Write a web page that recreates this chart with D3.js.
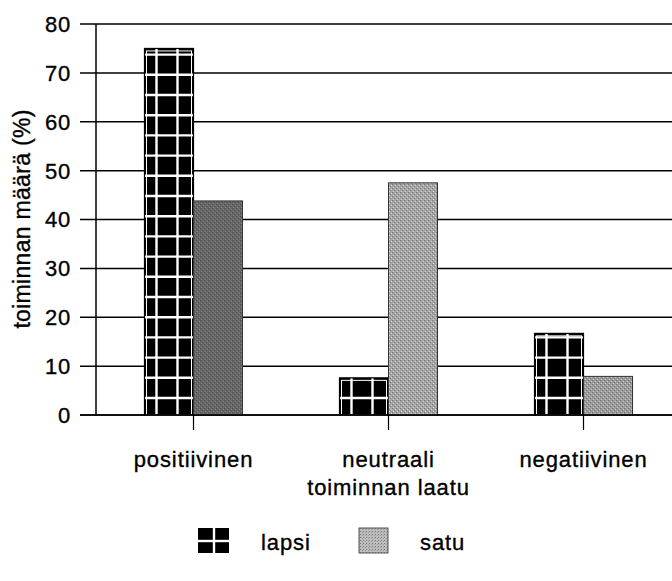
<!DOCTYPE html>
<html><head><meta charset="utf-8">
<script src="https://cdn.jsdelivr.net/npm/d3@7"></script>
<style>
html,body{margin:0;padding:0;background:#fff;}
svg{display:block;font-family:"Liberation Sans",Arial,sans-serif;}
text{fill:#000;stroke:#000;stroke-width:0.35px;}
</style></head>
<body>
<svg id="c" width="672" height="581"></svg>
<script>
const categories = ["positiivinen", "neutraali", "negatiivinen"];
const seriesNames = ["lapsi", "satu"];
const lapsi = [75, 7.6, 16.7];
const satu = [43.8, 47.5, 7.9];
const yTicks = [0, 10, 20, 30, 40, 50, 60, 70, 80];
const xTitle = "toiminnan laatu";
const yTitle = "toiminnan määrä (%)";

const satuShade = ["#666666", "#a4a4a4", "#9a9a9a"];

const svg = d3.select("#c");
const x0 = d3.scaleBand().domain(categories).range([96, 681]).paddingInner(0).paddingOuter(0);
const x1 = d3.scaleBand().domain(seriesNames).range([0, 98]);
const y = d3.scaleLinear().domain([0, 80]).range([415, 24]);
const bw = x1.bandwidth();
const off = (x0.bandwidth() - 98) / 2;

const defs = svg.append("defs");
satuShade.forEach((c, i) => {
  const p = defs.append("pattern").attr("id", "satu" + i).attr("patternUnits", "userSpaceOnUse")
    .attr("width", 4).attr("height", 4);
  p.append("rect").attr("width", 4).attr("height", 4).attr("fill", c);
  p.append("rect").attr("x", 0).attr("y", 0).attr("width", 1).attr("height", 1).attr("fill", d3.color(c).darker(0.9));
  p.append("rect").attr("x", 2).attr("y", 2).attr("width", 1).attr("height", 1).attr("fill", d3.color(c).darker(0.9));
  p.append("rect").attr("x", 1).attr("y", 3).attr("width", 1).attr("height", 1).attr("fill", d3.color(c).brighter(0.8));
  p.append("rect").attr("x", 3).attr("y", 1).attr("width", 1).attr("height", 1).attr("fill", d3.color(c).brighter(0.8));
});
const lp = defs.append("pattern").attr("id", "satuLeg").attr("patternUnits", "userSpaceOnUse").attr("width", 3).attr("height", 3);
lp.append("rect").attr("width", 3).attr("height", 3).attr("fill", "#bdbdbd");
lp.append("rect").attr("width", 1).attr("height", 1).attr("fill", "#777");
lp.append("rect").attr("x", 2).attr("y", 1).attr("width", 1).attr("height", 1).attr("fill", "#999");

svg.append("g").selectAll("line").data(yTicks).join("line")
  .attr("x1", 80).attr("x2", 672)
  .attr("y1", d => y(d)).attr("y2", d => y(d))
  .attr("stroke", "#000").attr("stroke-width", 1.5);

svg.append("line").attr("x1", 96).attr("x2", 96).attr("y1", y(80)).attr("y2", y(0))
  .attr("stroke", "#000").attr("stroke-width", 1.5);

svg.append("g").selectAll("text").data(yTicks).join("text")
  .attr("x", 71).attr("y", d => y(d)).attr("dy", "0.36em")
  .attr("text-anchor", "end").attr("font-size", 22).attr("letter-spacing", 0.8).text(d => d);

const gL = svg.append("g");
categories.forEach((c, i) => {
  const bx = x0(c) + off + x1("lapsi");
  const top = y(lapsi[i]), bot = y(0);
  const clipId = "clipL" + i;
  defs.append("clipPath").attr("id", clipId).append("rect")
    .attr("x", bx).attr("y", top).attr("width", bw).attr("height", bot - top);
  gL.append("rect").attr("x", bx).attr("y", top).attr("width", bw).attr("height", bot - top).attr("fill", "#000");
  const g = gL.append("g").attr("clip-path", `url(#${clipId})`);
  [12, 33].forEach(dx => g.append("line").attr("x1", bx + dx).attr("x2", bx + dx).attr("y1", top).attr("y2", bot)
    .attr("stroke", "#fff").attr("stroke-width", 2.4));
  const hy = d3.range(0, 80, 1).map(k => 398 - 20.2 * k).filter(v => v > top + 2);
  hy.forEach(v => g.append("line").attr("x1", bx).attr("x2", bx + bw).attr("y1", v).attr("y2", v)
    .attr("stroke", "#fff").attr("stroke-width", 2.4));
  gL.append("rect").attr("x", bx + 2).attr("y", top + 2.5).attr("width", bw - 4).attr("height", bot - top - 2.5)
    .attr("fill", "none").attr("stroke", "#fff").attr("stroke-width", 1);
  gL.append("rect").attr("x", bx).attr("y", top).attr("width", bw).attr("height", bot - top)
    .attr("fill", "none").attr("stroke", "#000").attr("stroke-width", 1.2);
});
svg.append("g").selectAll("rect").data(categories).join("rect")
  .attr("x", c => x0(c) + off + x1("satu"))
  .attr("y", (c, i) => y(satu[i]))
  .attr("width", bw)
  .attr("height", (c, i) => y(0) - y(satu[i]))
  .attr("fill", (c, i) => `url(#satu${i})`)
  .attr("stroke", "#333").attr("stroke-width", 1);

svg.append("line").attr("x1", 80).attr("x2", 672).attr("y1", y(0)).attr("y2", y(0))
  .attr("stroke", "#000").attr("stroke-width", 1.5);
svg.append("g").selectAll("line").data(categories).join("line")
  .attr("x1", c => x0(c) + x0.bandwidth() / 2).attr("x2", c => x0(c) + x0.bandwidth() / 2)
  .attr("y1", y(0)).attr("y2", y(0) + 15).attr("stroke", "#000").attr("stroke-width", 1.2);
svg.append("g").selectAll("text").data(categories).join("text")
  .attr("x", c => x0(c) + x0.bandwidth() / 2).attr("y", 467)
  .attr("text-anchor", "middle").attr("font-size", 22).attr("letter-spacing", 0.9).text(c => c);
svg.append("text").attr("x", x0(categories[1]) + x0.bandwidth() / 2).attr("y", 495)
  .attr("text-anchor", "middle").attr("font-size", 22).attr("letter-spacing", 0.9).text(xTitle);

svg.append("text").attr("transform", "translate(30,219) rotate(-90)")
  .attr("text-anchor", "middle").attr("font-size", 23).attr("letter-spacing", 0.3).text(yTitle);

const leg = svg.append("g");
leg.append("rect").attr("x", 198).attr("y", 528).attr("width", 31).attr("height", 25).attr("fill", "#000");
leg.append("line").attr("x1", 198).attr("x2", 229).attr("y1", 541).attr("y2", 541).attr("stroke", "#fff").attr("stroke-width", 2.4);
leg.append("line").attr("x1", 214).attr("x2", 214).attr("y1", 528).attr("y2", 553).attr("stroke", "#fff").attr("stroke-width", 2.4);
leg.append("text").attr("x", 261).attr("y", 550).attr("font-size", 22).attr("letter-spacing", 0.9).text(seriesNames[0]);
leg.append("rect").attr("x", 359).attr("y", 528).attr("width", 29).attr("height", 25).attr("fill", "url(#satuLeg)")
  .attr("stroke", "#555").attr("stroke-width", 1);
leg.append("text").attr("x", 420).attr("y", 550).attr("font-size", 22).attr("letter-spacing", 0.9).text(seriesNames[1]);
</script>
</body></html>
